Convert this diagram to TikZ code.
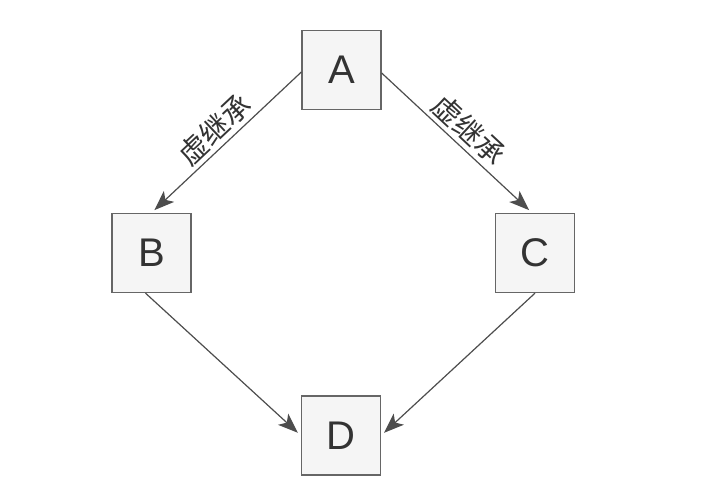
\documentclass[tikz,border=0pt]{standalone}
\usepackage{fontspec}
\setmainfont{Liberation Sans}
\newfontfamily\cjk{Noto Sans CJK SC}
\usetikzlibrary{arrows.meta}
\definecolor{myfill}{HTML}{F5F5F5}
\definecolor{myborder}{HTML}{666666}
\definecolor{myline}{HTML}{4D4D4D}
\definecolor{mytext}{HTML}{333333}

\begin{document}
\begin{tikzpicture}[x=1pt, y=-1pt]
        \def\boxsize{79pt}
        \tikzset{
            classbox/.style={draw=myborder, fill=myfill, line width=1.3pt, minimum size=\boxsize, inner sep=0pt, text=mytext, font=\fontsize{40}{40}\selectfont},
            inherit/.style={draw=myline, line width=1.2pt, -{Stealth[length=20pt, width=15pt, inset=5pt]}, shorten >=4pt},
            virtlabel/.style={sloped, above, midway, text=mytext, inner sep=4pt, font=\cjk\fontsize{29}{29}\selectfont}
        }
        \useasboundingbox (0,0) rectangle (718,485);

        % Top class
        \node[classbox] (A) at (341.5,70) {A};
        % Middle classes
        \node[classbox] (B) at (151.5,253) {B};
        \node[classbox] (C) at (535,253) {C};
        % Bottom class
        \node[classbox] (D) at (341,435.5) {D};

        % Virtual inheritance
        \draw[inherit] ([yshift=-2pt]A.west) -- (B.north) node[virtlabel] {虚继承};
        \draw[inherit] ([yshift=-3pt]A.east) -- ([xshift=-3pt]C.north) node[virtlabel] {虚继承};

        % Plain inheritance
        \draw[inherit] ([xshift=-6pt]B.south) -- (D.west);
        \draw[inherit] (C.south) -- (D.east);
    \end{tikzpicture}
\end{document}
